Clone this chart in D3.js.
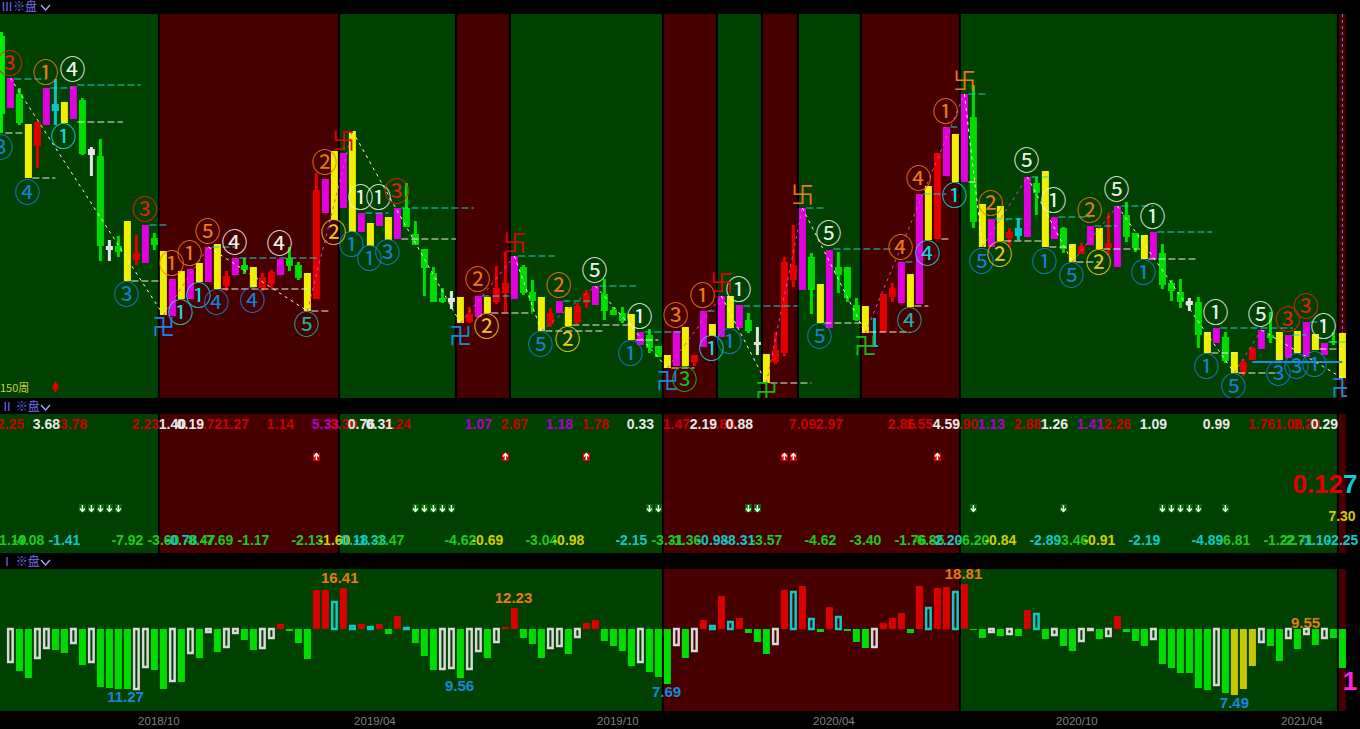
<!DOCTYPE html>
<html>
<head>
<meta charset="utf-8">
<title>chart</title>
<script src="https://cdn.jsdelivr.net/npm/d3@7"></script>
<style>
  html, body { margin: 0; padding: 0; background: #000; overflow: hidden; }
  svg { display: block; }
</style>
</head>
<body>
<svg id="chart"></svg>
<script>
// candles, first one is bar -1. price unit is arbitrary, the original has no price axis
const firstBar = -1;
const wickHighs = [366,
  320,310,274,276,310,319,296,312,300,251,
  259,158,162,177,163,173,165,147,119,127,
  129,135,151,154,127,140,140,131,125,128,
  139,151,136,125,225,219,247,245,267,185,
  175,185,181,190,215,177,149,131,110,107,
  101,91,102,101,132,146,142,133,118,101,
  90,97,91,95,108,112,119,91,91,84,
  66,69,52,43,67,71,43,87,74,102,
  102,93,85,71,44,66,141,173,190,145,
  114,148,146,131,100,92,80,104,115,136,
  124,204,212,245,271,264,304,313,194,179,
  192,170,180,221,221,227,181,171,154,155,
  172,170,185,192,196,165,163,166,154,118,
  119,100,101,66,70,66,46,39,51,68,
  86,66,63,67,76,64,55,66,65];
const bodyTops = [362,
  320,304,274,276,310,294,296,312,298,249,
  242,152,152,177,145,173,160,147,119,127,
  129,135,151,154,122,140,133,131,121,126,
  139,140,133,125,208,219,247,245,267,185,
  175,185,181,190,190,164,149,125,100,100,
  101,84,102,101,110,115,142,131,106,101,
  85,97,91,92,105,112,104,88,85,84,
  66,63,52,43,67,71,43,87,74,102,
  102,93,78,56,44,48,136,133,190,141,
  114,148,131,131,93,92,53,104,110,136,
  124,204,212,245,271,264,304,281,194,179,
  192,166,170,221,215,227,181,170,154,152,
  172,170,155,192,183,165,163,166,145,115,
  106,97,96,66,70,61,46,36,50,68,
  63,66,63,67,76,64,55,57,65];
const bodyBottoms = [284,
  290,275,220,252,273,287,275,279,244,243,
  152,148,146,117,138,135,153,83,82,99,
  99,116,116,109,112,123,128,111,110,114,
  123,132,120,87,99,185,178,190,166,166,
  152,172,158,159,171,153,130,96,96,96,
  75,76,81,85,96,105,99,105,97,67,
  74,85,72,75,95,93,87,83,77,58,
  53,50,41,30,32,32,36,51,62,61,
  70,70,67,53,15,36,45,118,108,108,
  75,70,123,100,78,65,51,66,101,95,
  91,94,158,159,222,216,216,176,151,151,
  157,160,162,161,205,151,159,149,136,144,
  153,149,150,131,161,150,139,139,113,107,
  96,93,63,45,55,37,25,26,38,49,
  60,38,40,45,41,48,43,55,20];
const wickLows = [265,
  290,273,220,230,273,273,275,279,243,222,
  137,137,141,117,133,135,148,83,82,99,
  99,116,116,109,107,123,124,111,107,110,
  123,127,118,87,99,185,178,190,166,166,
  152,172,158,159,171,153,102,96,95,89,
  75,75,81,85,94,86,99,103,86,67,
  71,85,72,74,90,93,78,83,75,58,
  53,45,41,30,32,32,32,51,62,61,
  70,70,65,43,15,34,42,111,108,84,
  75,70,105,96,77,65,51,66,96,95,
  91,94,158,159,222,216,216,170,151,151,
  157,151,158,161,183,151,159,145,136,144,
  153,149,143,131,156,146,139,139,109,97,
  90,87,50,45,55,35,25,22,38,49,
  55,38,40,45,41,48,43,53,20];
const candleKinds = ["g",
  "mgyrmcymgw","gwgyrmgymy","mymyrmgyrr","mggyrmymym","ymymgggggw",
  "yrmyrrmggy","rmyrrmgggy","mggymyrmym","ymgwyrrrmg","ymgggycrrm",
  "ymyrmymgym","yrcmgymgyr","myrmggymgg","gwgymgyrrm","gymymymgy"].join("").split("");

// coloured background blocks of each panel, green and red taking turns
const topBandEdges = [-1.2,16.5,36.5,49.5,55.5,72.5,78.5,83.5,87.5,94.5,105.5,147.5,148.5];
const midBandEdges = [-1.2,16.5,36.5,72.5,105.5,147.5,148.5];
const lowBandEdges = [-1.2,72.5,105.5,147.5,148.5];

// zigzag trend line, turning points
const zigBars = [0,17,22,33,38,50,56,59,65,73,79,84,88,95,106,108,113,118,123,136,139,148];
const zigPrices = [320,83,151,87,267,75,142,67,112,30,102,15,190,65,304,151,221,136,192,25,68,20];

// dashed level lines
const peakFrom = [0,4,7,15,22,25,39,43,52,56,61,65,70,77,81,88,91,99,101,104,106,109,113,116,120,123,127,134,142,144,146];
const peakTo = [4,7,14.5,17.5,25,34,42,51.5,55.5,60.5,64.5,69.5,74.5,78.5,87.5,90.5,98,100.5,104,105.5,108.5,112.5,115.5,120,123,127,133.5,142.5,144,146,149];
const peakPrices = [319,310,313,173,151,140,185,190,102,142,97,112,66,87,92,190,149,136,204,271,304,179,221,181,172,192,166,70,63,76,56];
const troughFrom = [-1,2,7,13,23,33,43,53,59,62,69,73,84,90,95,100,103,106,110,115,118,121,126,133,136,145];
const troughTo = [1.5,5,12.5,16.5,33,35.5,49.5,58,66,69,72,76,89,95,100,102,104.5,107.5,115,118,121,125.5,132,136,141,148];
const troughPrices = [265,220,276,117,109,87,159,85,67,73,58,30,15,75,66,92,159,216,157,151,136,149,139,45,25,49];

// circled wave counts on the price panel
const countBars = [0,4,7,6,-1,2,15,13,18,20,
  22,25,30,19,21,23,27,33,35,36,
  39,41,43,38,40,42,52,53,61,65,
  59,62,70,69,74,75,77,81,78,80,
  91,90,99,102,100,101,104,105,109,108,
  110,113,116,120,118,115,121,123,127,126,
  134,133,136,139,142,144,146,141,143,145];
const countGlyphs = ["③①④①③④③③①①","⑤④④①①④④⑤②②","①①③①①③②②②⑤","⑤②①①③③①①①①",
  "⑤⑤④④④④①①②⑤","②⑤①②⑤①②⑤①①","①①⑤⑤③③①③③①"].join("").split("");
const countPrices = [334,325,328,261,250,205,188,103,134,144,
  166,155,154,85,102,95,97,73,235,165,
  200,200,206,153,139,145,118,71,112,127,
  53,58,81,44,82,18,102,108,49,56,
  164,61,150,144,77,219,286,202,194,136,
  143,237,197,187,122,136,135,208,181,125,
  85,31,11,83,78,91,71,24,31,33];
const countColors = ["rowcbbrboo","owwccbbtoy","wwrbbboyow","bywbogowcb",
  "wboctoocob","ywwobbywwb","wbbwrrwbbb"].join("").split("");

// top and bottom turning signs
const signBars = [37,56,79,88,106,17,50,73,84,95,148];
const signGlyphs = ["卐","卐","卐","卐","卐","卍","卍","卍","卍","卍","卍"];
const signPrices = [257,155,115,203,317,71,62,17,6,52,10];
const signColors = ["r","r","r","o","o","b","b","b","g","g","b"];

// middle panel, upper row of numbers
const upperBars = [0,4,7,15,18,20,22,25,30,35,37,39,41,43,52,56,61,65,70,74,77,79,81,88,91,99,101,104,106,109,113,116,120,123,127,134,139,142,144,146];
const upperLabels = ["2.25","3.68","3.78","2.23","1.40","0.19","1.72","1.27","1.14","5.33","3.30","0.76","0.31","1.24","1.07","2.67","1.18","1.78","0.33","1.47","2.19","1.88","0.88","7.09","2.97","2.86","1.55","4.59","1.90","1.13","2.88","1.26","1.41","2.26","1.09","0.99","1.76","1.00","2.20","0.29"];
const upperColors = ["rwrrwwrrrm","rwwrmrmrwr","wrwrrrrwrm","rwmrwwrrrw"].join("").split("");

// middle panel, lower row of numbers
const lowerBars = [0,2,6,13,17,19,21,23,27,33,36,38,40,42,50,53,59,62,69,73,75,78,81,84,90,95,100,102,104,107,110,115,118,121,126,133,136,141,143,145,148];
const lowerLabels = ["-1.19","-4.08","-1.41","-7.92","-3.60","-0.78","-8.47","-7.69","-1.17","-2.13","-1.60","-0.18","-1.33","-1.47","-4.62","-0.69","-3.04","-0.98","-2.15","-3.31","-1.36","-0.98","-8.31","-3.57","-4.62","-3.40","-1.76","-6.85","-2.20","-6.20","-0.84","-2.89","-3.46","-0.91","-2.19","-4.89","-6.81","-1.22","-2.71","-1.10","-2.25"];
const lowerColors = ["ggcggcgggg","yccggygycg","gccgggggcg","ycgyccgggcc"].join("").split("");

// small arrow boxes in the middle panel
const upArrowBars = [34,55,64,86,87,103];
const downArrowBars = [8,9,10,11,12,45,46,47,48,49,71,72,82,83,107,117,128,129,130,131,132,135];

// histogram, first one is bar 0
const histValues = [-33,-42,-49,-29,-19,-21,-24,-14,-36,-33,
  -58,-59,-60,-60,-60,-38,-41,-60,-52,-53,
  -24,-29,-3,-23,-18,-4,-11,-21,-19,-9,
  5,-2,-14,-30,39,39,27,41,3,5,
  2,5,-5,13,1,-14,-27,-41,-40,-39,
  -49,-40,-22,-29,-13,2,21,-9,-15,-29,
  -19,-17,-25,-8,6,9,-12,-17,-22,-37,
  -33,-43,-48,-55,-16,-29,-22,9,3,33,
  7,11,-4,-13,-25,-15,39,37,43,10,
  -3,22,12,-2,-13,-19,-18,6,11,16,
  -4,43,21,41,42,37,45,-1,-9,-3,
  -7,-5,-7,19,15,-10,-6,-17,-22,-12,
  -1,-10,-7,13,-3,-12,-17,-10,-35,-39,
  -44,-44,-59,-61,-56,-64,-66,-60,-37,-13,
  -17,-32,-9,-20,-5,-16,-9,-9,-39];
const histKinds = ["wggwwggwgw","ggggwwggwg","wgwgwwggww","rgggrrcrcr","crgrcgggww",
  "gwwgwrrggg","wwgwrrgggg","wgggwgwrcr","crgggwrcrc","grcgggwrrr",
  "grcrrcrggw","gwgrcgwggw","wgwrgggwgg","ggggwgyyyw","ggwgwgwgg"].join("").split("");

// value labels on the histogram
const extremeLabels = ["16.41","12.23","18.81","9.55","11.27","9.56","7.69","7.49"];
const extremeBars = [36.6,55.9,105.9,143.9,12.8,49.9,72.9,136];
const extremeValues = [51,31,55,6,-68,-57,-63,-74];
const extremeColors = ["o","o","o","o","b","b","b","b"];

const timeTicks = [16,40,67,91,118,143];
const timeLabels = ["2018/10","2019/04","2019/10","2020/04","2020/10","2021/04"];

const palette = {
  r: "#e00000", g: "#00dc00", y: "#f0f000", m: "#e000e0", c: "#00c8c8", w: "#e4e4e4",
  o: "#e87a14", b: "#1a86dc", t: "#20b8b0"
};
const countPalette = { r: "#e02010", o: "#ee7a10", w: "#ecf4ec", c: "#10d8e0", b: "#1480d8", y: "#f0c820", g: "#10c010", t: "#20b0a8" };
const textPalette = { r: "#c80000", w: "#e8e8e8", m: "#b000c8", g: "#20c820", c: "#10c8c8", y: "#d0d000" };

const width = 1360, height = 729;
const svg = d3.select("#chart").attr("width", width).attr("height", height);
svg.append("rect").attr("width", width).attr("height", height).attr("fill", "#000");

const x = d3.scaleLinear().domain([firstBar, 148]).range([1.4, 1342.4]);
const yPrice = d3.scaleLinear().domain([0, 384]).range([398, 14]);
const yHist = d3.scaleLinear().domain([-82, 60]).range([711, 569]);
const sansBold = "'Liberation Sans', Arial, sans-serif";
const cjk = "'Noto Sans CJK SC', sans-serif";

function drawBands(edges, top, bottom) {
  const g = svg.append("g");
  d3.pairs(edges).forEach(([a, b], i) => {
    g.append("rect")
      .attr("x", Math.max(0, x(a))).attr("y", top)
      .attr("width", x(b) - Math.max(0, x(a))).attr("height", bottom - top)
      .attr("fill", i % 2 === 0 ? "#004000" : "#460000");
  });
  g.selectAll("line").data(edges.slice(1)).join("line")
    .attr("x1", d => x(d)).attr("x2", d => x(d))
    .attr("y1", top).attr("y2", bottom)
    .attr("stroke", "#000").attr("stroke-width", 2);
}
drawBands(topBandEdges, 14, 398);
drawBands(midBandEdges, 414, 553);
drawBands(lowBandEdges, 569, 711);

// panel titles
const titles = [["Ⅲ※盘", 7], ["Ⅱ ※盘", 407], ["Ⅰ ※盘", 562]];
titles.forEach(([t, yy]) => {
  svg.append("text").attr("x", 1).attr("y", yy).attr("dy", "0.36em")
    .attr("font-family", cjk).attr("font-size", 12).attr("fill", "#7070e8").text(t);
  svg.append("path")
    .attr("d", d3.line()([[41, yy - 2], [45.5, yy + 3], [50, yy - 2]]))
    .attr("fill", "none").attr("stroke", "#9ab0ff").attr("stroke-width", 1.3);
});

// price panel
const priceClip = svg.append("clipPath").attr("id", "price-clip");
priceClip.append("rect").attr("x", 0).attr("y", 14).attr("width", 1347).attr("height", 384);
const pricePanel = svg.append("g").attr("clip-path", "url(#price-clip)");

pricePanel.append("line")
  .attr("x1", x(148)).attr("x2", x(148)).attr("y1", 14).attr("y2", 398)
  .attr("stroke", "#6f86e8").attr("stroke-dasharray", "3,3");

function levelLines(from, to, prices, color) {
  pricePanel.append("g").selectAll("line").data(prices).join("line")
    .attr("x1", (d, i) => x(from[i]) + 4)
    .attr("x2", (d, i) => x(to[i]))
    .attr("y1", d => yPrice(d)).attr("y2", d => yPrice(d))
    .attr("stroke", color).attr("stroke-width", 1)
    .attr("stroke-dasharray", "7,3");
}

const bars = d3.range(wickHighs.length);
const candles = pricePanel.append("g");
candles.selectAll("rect.wick").data(bars).join("rect").attr("class", "wick")
  .attr("x", i => x(i + firstBar) - 1.5).attr("width", 3)
  .attr("y", i => yPrice(wickHighs[i]))
  .attr("height", i => yPrice(wickLows[i]) - yPrice(wickHighs[i]))
  .attr("fill", i => i === 0 ? "#00f000" : palette[candleKinds[i]]);
candles.selectAll("rect.body").data(bars).join("rect").attr("class", "body")
  .attr("x", i => x(i + firstBar) - 3.5).attr("width", 7)
  .attr("y", i => yPrice(bodyTops[i]))
  .attr("height", i => yPrice(bodyBottoms[i]) - yPrice(bodyTops[i]))
  .attr("fill", i => i === 0 ? "#00f000" : palette[candleKinds[i]]);

levelLines(peakFrom, peakTo, peakPrices, "#20d0c8");
levelLines(troughFrom, troughTo, troughPrices, "#f0f0e0");
pricePanel.append("line")
  .attr("x1", x(138)).attr("x2", x(148)).attr("y1", yPrice(36)).attr("y2", yPrice(36))
  .attr("stroke", "#1e8ee0").attr("stroke-width", 2);

// zigzag, pale going down and magenta going up
d3.pairs(d3.zip(zigBars, zigPrices)).forEach(([a, b]) => {
  pricePanel.append("path")
    .attr("d", d3.line().x(d => x(d[0])).y(d => yPrice(d[1]))([a, b]))
    .attr("fill", "none")
    .attr("stroke", b[1] < a[1] ? "#fafac8" : "#e040d0")
    .attr("stroke-width", 1)
    .attr("stroke-dasharray", "3,4");
});

pricePanel.append("g").selectAll("text").data(countBars).join("text")
  .attr("x", d => x(d) - 1)
  .attr("y", (d, i) => yPrice(countPrices[i]))
  .attr("dy", "0.36em")
  .attr("text-anchor", "middle")
  .attr("font-family", "'DejaVu Serif', 'Noto Sans CJK SC', sans-serif").attr("font-size", 26)
  .attr("fill", (d, i) => countPalette[countColors[i]])
  .text((d, i) => countGlyphs[i]);

pricePanel.append("g").selectAll("text").data(signBars).join("text")
  .attr("x", d => x(d))
  .attr("y", (d, i) => yPrice(signPrices[i]))
  .attr("dy", "0.36em")
  .attr("text-anchor", "middle")
  .attr("font-family", cjk).attr("font-size", 23)
  .attr("fill", (d, i) => signColors[i] === "g" ? "#10c010" : palette[signColors[i]])
  .text((d, i) => signGlyphs[i]);

svg.append("text").attr("x", 0).attr("y", 388).attr("dy", "0.36em")
  .attr("font-family", cjk).attr("font-size", 11).attr("fill", "#c8d040").text("150周");
svg.append("path")
  .attr("transform", "translate(55.5,387)")
  .attr("d", d3.symbol(d3.symbolDiamond, 42)())
  .attr("fill", "#e00000");

// middle panel
function numberRow(barList, labels, colors, yy) {
  const row = svg.append("g").selectAll("text").data(barList).join("text")
    .attr("x", d => x(d))
    .attr("y", yy).attr("dy", "0.36em")
    .attr("text-anchor", "middle")
    .attr("font-family", sansBold).attr("font-weight", "bold").attr("font-size", 14)
    .attr("fill", (d, i) => textPalette[colors[i]])
    .text((d, i) => labels[i]);
  row.filter((d, i) => colors[i] === "w").raise();
}
numberRow(upperBars, upperLabels, upperColors, 424);
numberRow(lowerBars, lowerLabels, lowerColors, 540);

function arrowBoxes(barList, yy, boxColor, up) {
  const s = up ? -1 : 1;
  const g = svg.append("g").selectAll("g").data(barList).join("g")
    .attr("transform", d => `translate(${x(d)},${yy})`);
  g.append("rect").attr("x", -3.5).attr("y", -4).attr("width", 7).attr("height", 8).attr("fill", boxColor);
  g.append("path")
    .attr("d", d3.line()([[0, -3 * s], [0, 3 * s]]))
    .attr("stroke", "#fff").attr("stroke-width", 1.5);
  g.append("path")
    .attr("d", d3.line()([[-2.5, 0.5 * s], [0, 3.5 * s], [2.5, 0.5 * s]]))
    .attr("fill", "none").attr("stroke", "#fff").attr("stroke-width", 1.2);
}
arrowBoxes(upArrowBars, 457, "#d80000", true);
arrowBoxes(downArrowBars, 508, "#006c00", false);

svg.append("text").attr("x", 1343).attr("y", 484).attr("dy", "0.36em").attr("text-anchor", "end")
  .attr("font-family", sansBold).attr("font-weight", "bold").attr("font-size", 26).attr("fill", "#e00000").text("0.12");
svg.append("text").attr("x", 1343).attr("y", 484).attr("dy", "0.36em")
  .attr("font-family", sansBold).attr("font-weight", "bold").attr("font-size", 26).attr("fill", "#10c8d8").text("7");
svg.append("text").attr("x", 1342).attr("y", 516).attr("dy", "0.36em").attr("text-anchor", "middle")
  .attr("font-family", sansBold).attr("font-weight", "bold").attr("font-size", 14).attr("fill", "#d0d000").text("7.30");

// histogram panel, white and cyan bars are hollow with a thin slit
const hollow = k => k === "w" || k === "c";
const histColor = { r: "#d80000", g: "#00dc00", y: "#c8c800" };
svg.append("g").selectAll("rect").data(histValues).join("rect")
  .attr("x", (d, i) => x(i) - (hollow(histKinds[i]) ? 2.25 : 3.5))
  .attr("width", (d, i) => hollow(histKinds[i]) ? 4.5 : 7)
  .attr("y", d => Math.min(yHist(d), yHist(0)))
  .attr("height", d => Math.abs(yHist(d) - yHist(0)))
  .attr("fill", (d, i) => hollow(histKinds[i]) ? "none" : histColor[histKinds[i]])
  .attr("stroke", (d, i) => histKinds[i] === "w" ? "#d8d8d8" : histKinds[i] === "c" ? "#10c8c8" : "none")
  .attr("stroke-width", 2.5);

svg.append("g").selectAll("text").data(extremeLabels).join("text")
  .attr("x", (d, i) => x(extremeBars[i]))
  .attr("y", (d, i) => yHist(extremeValues[i]))
  .attr("dy", "0.36em")
  .attr("text-anchor", "middle")
  .attr("font-family", sansBold).attr("font-weight", "bold").attr("font-size", 15)
  .attr("fill", (d, i) => palette[extremeColors[i]])
  .text(d => d);

svg.append("text").attr("x", 1350).attr("y", 681).attr("dy", "0.36em").attr("text-anchor", "middle")
  .attr("font-family", sansBold).attr("font-weight", "bold").attr("font-size", 26).attr("fill", "#ff20e0").text("1");

// time axis
const axis = svg.append("g")
  .attr("transform", "translate(4,711)")
  .call(d3.axisBottom(x).tickValues(timeTicks).tickSize(0).tickPadding(6)
    .tickFormat((d, i) => timeLabels[i]));
axis.select(".domain").remove();
axis.selectAll("text").attr("fill", "#808080").attr("font-size", 11.5)
  .attr("font-family", "'Liberation Sans', Arial, sans-serif");
</script>
</body>
</html>
